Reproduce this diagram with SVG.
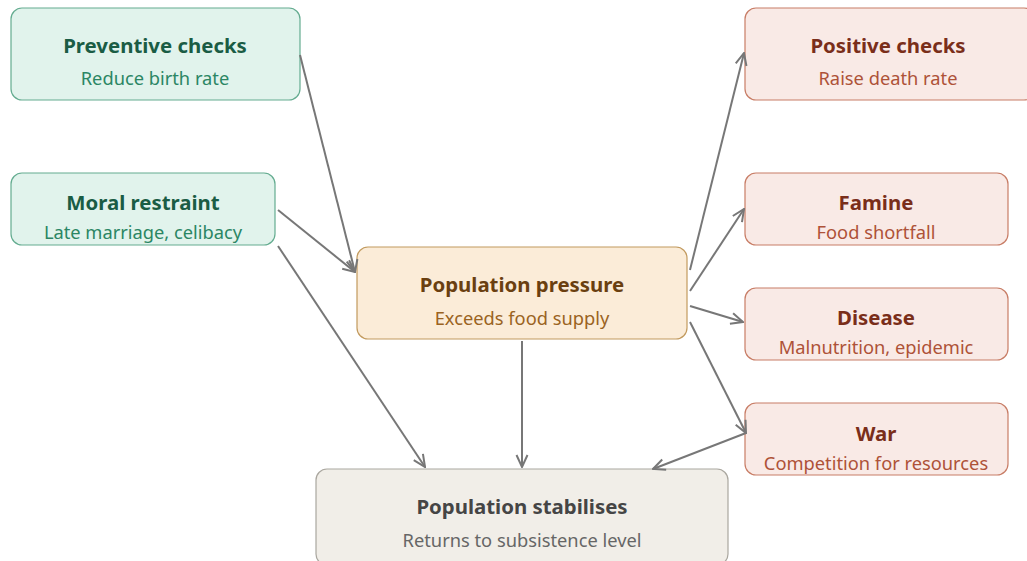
<svg xmlns="http://www.w3.org/2000/svg" width="1027" height="561" viewBox="0 0 1027 561">
<defs>
<style>
.t{font-family:"Noto Sans","Open Sans",sans-serif;font-weight:700;font-size:20.4px;text-anchor:middle}
.s{font-family:"Noto Sans","Open Sans",sans-serif;font-size:18.3px;text-anchor:middle}
.g rect{fill:#e1f3ec;stroke:#64ac90;stroke-width:1.2}
.g .t{fill:#1a5c44}.g .s{fill:#2b8664}
.o rect{fill:#fbecd8;stroke:#c29a5e;stroke-width:1.2}
.o .t{fill:#6a3f10}.o .s{fill:#9a6322}
.r rect{fill:#f9eae6;stroke:#c87d66;stroke-width:1.2}
.r .t{fill:#7a2e1a}.r .s{fill:#ae5238}
.n rect{fill:#f1eee8;stroke:#aaa79f;stroke-width:1.2}
.n .t{fill:#454545}.n .s{fill:#666}
.e{fill:none;stroke:#777;stroke-width:2;marker-end:url(#a)}
</style>
<marker id="a" viewBox="0 0 14 14" refX="13" refY="7" markerWidth="14" markerHeight="14" markerUnits="userSpaceOnUse" orient="auto">
<path d="M1,1.5 L13,7 L1,12.5" fill="none" stroke="#777" stroke-width="2"/>
</marker>
</defs>
<g id="preventive" class="g"><rect x="11" y="8" width="289" height="92" rx="11"/><text class="t" x="155" y="53">Preventive checks</text><text class="s" x="155" y="85">Reduce birth rate</text></g>
<g id="moral" class="g"><rect x="11" y="173" width="264" height="72" rx="11"/><text class="t" x="143" y="210">Moral restraint</text><text class="s" x="143" y="239">Late marriage, celibacy</text></g>
<g id="pressure" class="o"><rect x="357" y="247" width="330" height="92" rx="11"/><text class="t" x="522" y="292">Population pressure</text><text class="s" x="522" y="325">Exceeds food supply</text></g>
<g id="stabilises" class="n"><rect x="316" y="469" width="412" height="96" rx="11"/><text class="t" x="522" y="514">Population stabilises</text><text class="s" x="522" y="547">Returns to subsistence level</text></g>
<g id="positive" class="r"><rect x="745" y="8" width="290" height="92" rx="11"/><text class="t" x="888" y="53">Positive checks</text><text class="s" x="888" y="85">Raise death rate</text></g>
<g id="famine" class="r"><rect x="745" y="173" width="263" height="72" rx="11"/><text class="t" x="876" y="210">Famine</text><text class="s" x="876" y="239">Food shortfall</text></g>
<g id="disease" class="r"><rect x="745" y="288" width="263" height="72" rx="11"/><text class="t" x="876" y="325">Disease</text><text class="s" x="876" y="354">Malnutrition, epidemic</text></g>
<g id="war" class="r"><rect x="745" y="403" width="263" height="72" rx="11"/><text class="t" x="876" y="441">War</text><text class="s" x="876" y="470">Competition for resources</text></g>
<g id="connectors">
<path class="e" d="M300,55 L355,272"/>
<path class="e" d="M278,210 L355,272"/>
<path class="e" d="M278,246 L425,467"/>
<path class="e" d="M522,341 L522,467"/>
<path class="e" d="M690,270 L744,53"/>
<path class="e" d="M690,291 L744,209"/>
<path class="e" d="M690,306 L743,322"/>
<path class="e" d="M690,322 L746,433"/>
<path class="e" d="M746,433 L653,469"/>
</g>
</svg>
